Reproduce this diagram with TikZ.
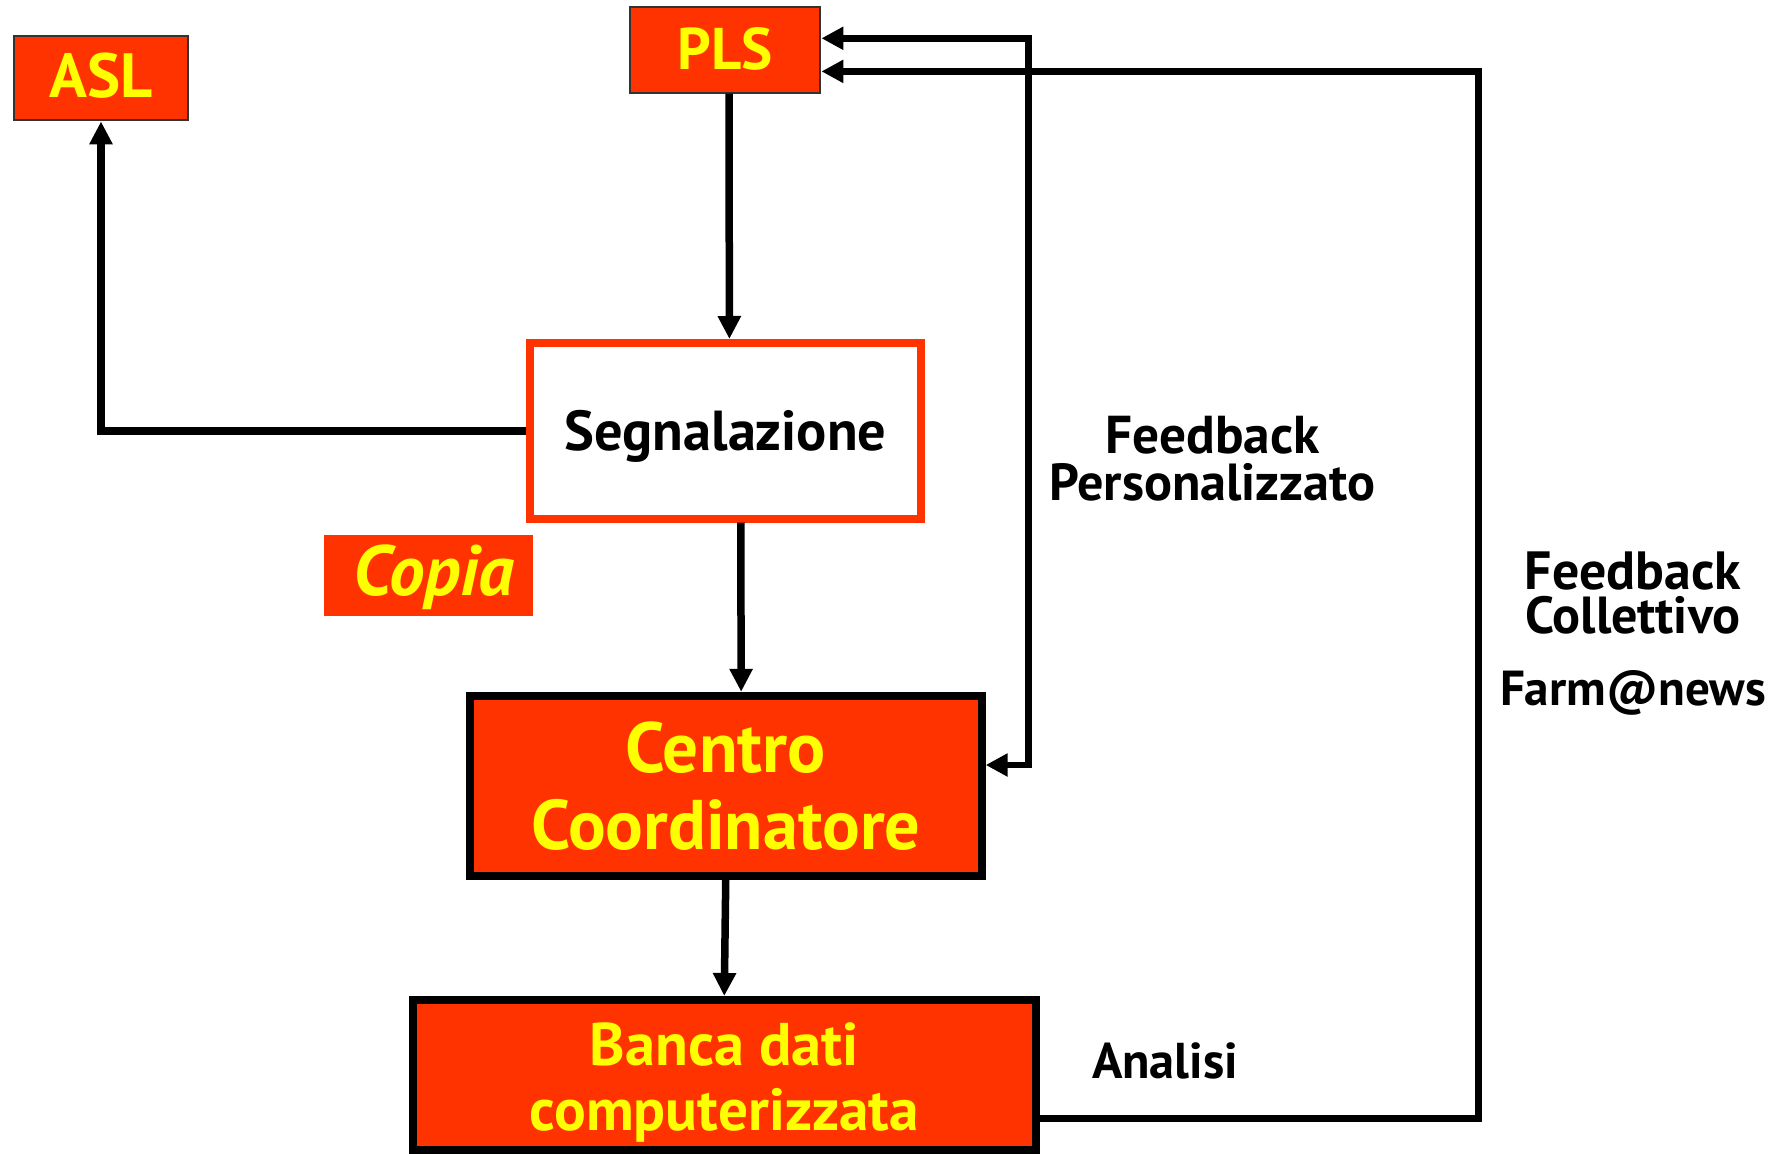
\documentclass[tikz,border=0pt]{standalone}
\usepackage{fontspec}
\setmainfont{PT Sans}
\usetikzlibrary{arrows.meta}
\definecolor{boxred}{RGB}{255,51,0}
\definecolor{txtyel}{RGB}{255,255,0}
\newcommand{\fitw}[2]{\resizebox{#1pt}{!}{#2}}
\begin{document}
\begin{tikzpicture}[x=1pt,y=-1pt,
  oneline/.style={text height=39pt, text depth=0pt},
  smallbox/.style={fill=boxred, draw=black!80, line width=2pt, inner sep=0pt, text=txtyel, font=\bfseries, oneline},
  segbox/.style={fill=white, draw=boxred, line width=8pt, inner sep=0pt, text=black, font=\bfseries, oneline},
  copiabox/.style={fill=boxred, draw=none, inner sep=0pt, text=txtyel, font=\bfseries\itshape, oneline},
  bigbox/.style={fill=boxred, draw=black, line width=8pt, inner sep=0pt, text=txtyel, font=\bfseries},
  yeltxt/.style={inner sep=0pt, text=txtyel},
  blktxt/.style={inner sep=0pt, text=black},
  conn/.style={line width=7.5pt, -{Triangle[length=23pt,width=22pt]}},
  fbline/.style={line width=6.5pt}
]
\useasboundingbox (0,0) rectangle (1789,1154);

% boxes
\node[smallbox, minimum width=174.8pt, minimum height=84.8pt] (asl) at (101,78) {\fitw{103}{ASL}};
\node[smallbox, minimum width=190.9pt, minimum height=85.2pt] (pls) at (725,50) {\fitw{95}{PLS}};
\node[segbox, minimum width=391.2pt, minimum height=175.5pt] (seg) at (725.4,430.75) {\fitw{322}{Segnalazione}};
\node[copiabox, minimum width=209pt, minimum height=81pt] (copia) at (428.5,575.5) {\hspace*{11pt}\fitw{161}{Copia}};
\node[bigbox, minimum width=511.9pt, minimum height=179.7pt, align=center,
      font=\bfseries\fontsize{20}{77}\selectfont] (cc) at (725.75,785.65)
      {\fitw{200}{Centro}\\\fitw{389}{Coordinatore}};
\node[bigbox, minimum width=623.1pt, minimum height=150pt] (banca) at (724.25,1075) {};
\node[yeltxt, align=center, font=\bfseries\fontsize{20}{65}\selectfont] (bancatxt) at (724.25,1082)
      {\fitw{269}{Banca dati}\\\fitw{389}{computerizzata}};

% labels
\node[blktxt, align=center, font=\bfseries\fontsize{20}{47}\selectfont] (fbp) at (1212.5,459)
      {\fitw{214}{Feedback}\\\fitw{326}{Personalizzato}};
\node[blktxt, align=center, font=\bfseries\fontsize{20}{44}\selectfont] (fbc) at (1633,593)
      {\fitw{216}{Feedback}\\\fitw{215}{Collettivo}};
\node[blktxt, font=\bfseries] (farm) at (1633,693) {\fitw{266}{Farm@news}};
\node[blktxt, font=\bfseries] (analisi) at (1165,1060.5) {\fitw{146}{Analisi}};

% connectors
\draw[conn] ([xshift=4pt]pls.south) -- ([xshift=4pt]seg.north);
\draw[conn] (seg.west) -| (asl.south);
\draw[conn] ([xshift=15.4pt]seg.south) -- ([xshift=15.4pt]cc.north);
\draw[conn] (cc.south) -- (banca.north);

\coordinate (fpv) at (1028.5,400);
\coordinate (fcv) at (1478.7,600);
\draw[fbline, {Triangle[length=22pt,width=22pt]}-{Triangle[length=22pt,width=22pt]}]
  ([yshift=11.7pt]pls.east) -| (fpv) |- ([yshift=20.65pt]cc.east);
\draw[fbline, -{Triangle[length=22pt,width=22pt]}]
  ([yshift=-43.5pt]banca.east) -| (fcv) |- ([yshift=-21.4pt]pls.east);
\end{tikzpicture}
\end{document}
